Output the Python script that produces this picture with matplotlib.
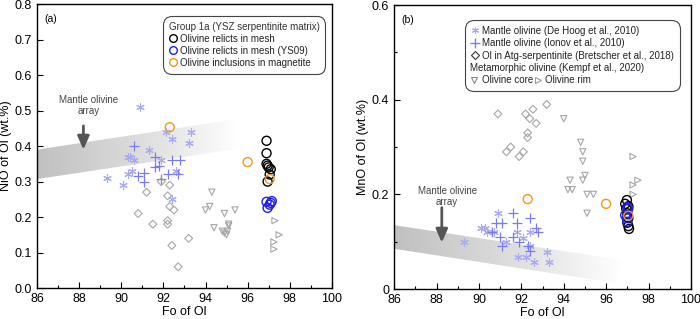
import numpy as np
from matplotlib import pyplot as plt
from matplotlib.colors import LinearSegmentedColormap
from matplotlib.lines import Line2D
from matplotlib.patches import Polygon
from matplotlib.ticker import MultipleLocator

plt.rcParams["font.family"] = ["Liberation Sans", "DejaVu Sans"]

# ---------------- data: panel (a) NiO ----------------
dehoog_fo_a = [90.9, 92.1, 92.4, 93.3, 93.2, 91.3, 90.4, 89.3, 90.1, 90.3, 90.6, 90.3, 90.5, 91.9, 92.6, 92.4]
dehoog_ni = [0.51, 0.44, 0.42, 0.44, 0.41, 0.39, 0.37, 0.31, 0.29, 0.37, 0.36, 0.32, 0.33, 0.36, 0.33, 0.25]
ionov_fo_a = [90.6, 91.6, 90.8, 91.1, 91.1, 91.6, 91.8, 91.9, 92.2, 92.4, 92.8, 92.7]
ionov_ni = [0.40, 0.37, 0.315, 0.325, 0.30, 0.34, 0.345, 0.307, 0.32, 0.36, 0.36, 0.32]
atg_fo_a = [91.2, 90.8, 91.5, 91.9, 92.3, 92.2, 92.3, 92.5, 92.2, 92.2, 92.4, 93.2, 92.7]
atg_ni = [0.27, 0.21, 0.18, 0.30, 0.29, 0.26, 0.23, 0.22, 0.19, 0.18, 0.12, 0.14, 0.06]
core_fo_a = [94.3, 94.2, 94.0, 94.9, 95.4, 94.4, 95.1, 95.1, 94.8, 94.9, 95.0, 95.05]
core_ni = [0.27, 0.23, 0.22, 0.21, 0.22, 0.17, 0.18, 0.175, 0.16, 0.155, 0.15, 0.16]
rim_fo_a = [97.3, 97.5, 97.25, 97.25]
rim_ni = [0.19, 0.15, 0.13, 0.11]
mesh_fo_a = [96.9, 96.9, 96.9, 96.95, 97.0, 97.1, 97.05, 96.95]
mesh_ni = [0.415, 0.38, 0.35, 0.345, 0.34, 0.335, 0.32, 0.30]
ys09_fo_a = [96.9, 97.15, 97.05, 96.95, 97.1]
ys09_ni = [0.243, 0.245, 0.235, 0.226, 0.24]
incl_fo_a = [92.3, 96.0, 97.05]
incl_ni = [0.453, 0.355, 0.307]
band_a_fo = [86.0, 95.6, 95.6, 86.0]
band_a_ni = [0.39, 0.477, 0.393, 0.307]

# ---------------- data: panel (b) MnO ----------------
dehoog_fo_b = [89.3, 90.1, 90.3, 90.4, 90.7, 90.9, 91.3, 91.8, 92.1, 91.85, 92.2, 92.4, 92.6, 93.2, 93.3, 92.4]
dehoog_mn = [0.10, 0.13, 0.13, 0.12, 0.12, 0.16, 0.10, 0.12, 0.107, 0.068, 0.068, 0.09, 0.057, 0.078, 0.057, 0.12]
ionov_fo_b = [90.8, 91.1, 90.6, 91.0, 91.1, 91.6, 91.6, 91.8, 91.9, 92.4, 92.7, 92.8, 92.3, 92.4]
ionov_mn = [0.14, 0.14, 0.12, 0.11, 0.09, 0.16, 0.11, 0.14, 0.10, 0.15, 0.13, 0.12, 0.09, 0.08]
atg_fo_b = [90.9, 92.2, 92.55, 93.2, 92.4, 92.7, 92.3, 92.3, 91.5, 91.3, 92.1, 91.9]
atg_mn = [0.37, 0.37, 0.38, 0.39, 0.36, 0.35, 0.33, 0.32, 0.30, 0.29, 0.29, 0.28]
core_fo_b = [94.0, 94.8, 94.9, 94.9, 95.0, 94.9, 94.3, 94.2, 94.4, 95.1, 95.4, 95.1]
core_mn = [0.36, 0.31, 0.29, 0.27, 0.24, 0.23, 0.23, 0.21, 0.21, 0.20, 0.20, 0.16]
rim_fo_b = [97.27, 97.5, 97.27, 97.27]
rim_mn = [0.28, 0.23, 0.22, 0.20]
mesh_fo_b = [96.98, 96.9, 97.05, 96.95, 97.0, 97.05, 97.0, 97.05, 97.08]
mesh_mn = [0.188, 0.18, 0.175, 0.17, 0.16, 0.15, 0.14, 0.133, 0.127]
ys09_fo_b = [97.0, 96.9, 97.0, 97.05, 96.98]
ys09_mn = [0.173, 0.156, 0.142, 0.17, 0.15]
incl_fo_b = [92.3, 96.0, 97.05]
incl_mn = [0.19, 0.18, 0.155]
band_b_fo = [86.0, 96.8, 96.4, 86.0]
band_b_mn = [0.135, 0.061, 0.013, 0.085]

C_DEHOOG = "#a9a9f5"
C_IONOV = "#7b7bf0"
C_GREY = "#a6a6a6"
C_BLUE = "#1f1fe6"
C_ORANGE = "#f7941d"

band_cmap = LinearSegmentedColormap.from_list("band", ["#c0c0c0", "#dcdcdc", "#ffffff"])


def draw_band(ax, xs, ys):
    poly = Polygon(np.column_stack([xs, ys]), closed=True, facecolor="none", edgecolor="none")
    ax.add_patch(poly)
    grad = np.linspace(0, 1, 256).reshape(1, -1)
    img = ax.imshow(grad, cmap=band_cmap, vmin=0, vmax=1, aspect="auto",
                    extent=[min(xs), max(xs), min(ys), max(ys)], origin="lower", zorder=1)
    img.set_clip_path(poly)


def draw_points(ax, fo_sets, val_sets):
    (dh_x, io_x, at_x, co_x, ri_x, me_x, ys_x, in_x) = fo_sets
    (dh_y, io_y, at_y, co_y, ri_y, me_y, ys_y, in_y) = val_sets
    ax.scatter(dh_x, dh_y, marker=(6, 2, 0), s=30, color=C_DEHOOG, linewidths=0.8, zorder=3)
    ax.scatter(io_x, io_y, marker="+", s=45, color=C_IONOV, linewidths=0.9, zorder=3)
    ax.scatter(at_x, at_y, marker="D", s=16, facecolors="none", edgecolors=C_GREY, linewidths=0.8, zorder=3)
    ax.scatter(co_x, co_y, marker="v", s=20, facecolors="none", edgecolors=C_GREY, linewidths=0.8, zorder=3)
    ax.scatter(ri_x, ri_y, marker=">", s=20, facecolors="none", edgecolors=C_GREY, linewidths=0.8, zorder=3)
    ax.scatter(me_x, me_y, marker="o", s=42, facecolors="none", edgecolors="black", linewidths=1.0, zorder=4)
    ax.scatter(ys_x, ys_y, marker="o", s=42, facecolors="none", edgecolors=C_BLUE, linewidths=1.0, zorder=5)
    ax.scatter(in_x, in_y, marker="o", s=42, facecolors="none", edgecolors=C_ORANGE, linewidths=1.0, zorder=6)


def style_axes(ax, ymax, ymajor, yminor, ylabel, yfmt):
    ax.set_xlim(86, 100)
    ax.set_ylim(0, ymax)
    ax.xaxis.set_major_locator(MultipleLocator(2))
    ax.xaxis.set_minor_locator(MultipleLocator(1))
    ax.yaxis.set_major_locator(MultipleLocator(ymajor))
    ax.yaxis.set_minor_locator(MultipleLocator(yminor))
    ax.yaxis.set_major_formatter(yfmt)
    ax.tick_params(which="major", direction="in", length=4, width=0.8, labelsize=9)
    ax.tick_params(which="minor", direction="in", length=2.5, width=0.8)
    for sp in ax.spines.values():
        sp.set_linewidth(1.0)
    ax.set_xlabel("Fo of Ol", fontsize=9, labelpad=1)
    ax.set_ylabel(ylabel, fontsize=9, labelpad=2)


def mantle_arrow(ax, x, y_text, y_from, y_to):
    ax.text(x + 0.25, y_text, "Mantle olivine\narray", ha="center", va="center", fontsize=7,
            color="#444444", linespacing=1.1)
    ax.annotate("", xy=(x, y_to), xytext=(x, y_from),
                arrowprops=dict(arrowstyle="-|>,head_length=0.8,head_width=0.35",
                                color="#555555", lw=2.0, shrinkA=0, shrinkB=0))


def round_frame(leg):
    fr = leg.get_frame()
    fr.set_linewidth(0.8)
    fr.set_boxstyle("round", pad=0.0, rounding_size=0.9)


fig = plt.figure(figsize=(7.0, 3.19), dpi=100)
ax1 = fig.add_axes([0.053, 0.097, 0.421, 0.89])
ax2 = fig.add_axes([0.563, 0.094, 0.424, 0.89])

# panel (a)
draw_band(ax1, band_a_fo, band_a_ni)
draw_points(ax1,
            (dehoog_fo_a, ionov_fo_a, atg_fo_a, core_fo_a, rim_fo_a, mesh_fo_a, ys09_fo_a, incl_fo_a),
            (dehoog_ni, ionov_ni, atg_ni, core_ni, rim_ni, mesh_ni, ys09_ni, incl_ni))
style_axes(ax1, 0.8, 0.1, 0.1, "NiO of Ol (wt.%)", "{x:.1f}")
mantle_arrow(ax1, 88.2, 0.515, 0.457, 0.39)
ax1.text(0.025, 0.965, "(a)", transform=ax1.transAxes, fontsize=7.5, va="top")

h_a = [Line2D([], [], ls="none", marker="o", ms=5.5, mfc="none", mec=c, mew=1.0)
       for c in ["black", C_BLUE, C_ORANGE]]
leg1 = ax1.legend(h_a, ["Olivine relicts in mesh", "Olivine relicts in mesh (YS09)",
                        "Olivine inclusions in magnetite"],
                  title="Group 1a (YSZ serpentinite matrix)", loc="upper right",
                  bbox_to_anchor=(0.995, 0.975), fontsize=7, title_fontsize=7,
                  handlelength=0.8, handletextpad=0.4, labelspacing=0.2, borderpad=0.6,
                  fancybox=True, framealpha=1, edgecolor="#444444")
round_frame(leg1)
leg1._legend_box.align = "left"
leg1.get_title().set_color("#333333")
for t in leg1.get_texts():
    t.set_color("#222222")

# panel (b)
draw_band(ax2, band_b_fo, band_b_mn)
draw_points(ax2,
            (dehoog_fo_b, ionov_fo_b, atg_fo_b, core_fo_b, rim_fo_b, mesh_fo_b, ys09_fo_b, incl_fo_b),
            (dehoog_mn, ionov_mn, atg_mn, core_mn, rim_mn, mesh_mn, ys09_mn, incl_mn))
style_axes(ax2, 0.6, 0.2, 0.1, "MnO of Ol (wt.%)", lambda v, p: "0" if v == 0 else f"{v:.1f}")
mantle_arrow(ax2, 88.25, 0.196, 0.172, 0.098)
ax2.text(0.025, 0.965, "(b)", transform=ax2.transAxes, fontsize=7.5, va="top")

blank = Line2D([], [], ls="none")
h_b = [Line2D([], [], ls="none", marker=(6, 2, 0), ms=5, color=C_DEHOOG, mew=0.8),
       Line2D([], [], ls="none", marker="+", ms=7, color=C_IONOV, mew=1.0),
       Line2D([], [], ls="none", marker="D", ms=4, mfc="none", mec="#333333", mew=0.8),
       blank, blank]
leg2 = ax2.legend(h_b, ["Mantle olivine (De Hoog et al., 2010)", "Mantle olivine (Ionov et al., 2010)",
                        "Ol in Atg-serpentinite (Bretscher et al., 2018)", " ", " "],
                  loc="upper right", bbox_to_anchor=(0.98, 0.965), fontsize=7,
                  handlelength=0.8, handletextpad=0.4, labelspacing=0.25, borderpad=0.6,
                  fancybox=True, framealpha=1, edgecolor="#444444")
round_frame(leg2)
for t in leg2.get_texts():
    t.set_color("#222222")
ax2.add_artist(leg2)

# place the Kempf block into the two blank rows of the legend box
fig.canvas.draw()
inv = fig.transFigure.inverted()
row3 = leg2.get_texts()[2].get_window_extent()
hnd = leg2.legend_handles[0]
frame = leg2.get_frame().get_window_extent()
x0 = frame.x0 + 0.75 * (row3.x0 - frame.x0) * 0.33
anchor = inv.transform((frame.x0 + 5, row3.y0 - 2))

h_c = [Line2D([], [], ls="none", marker="v", ms=4.5, mfc="none", mec="#888888", mew=0.8),
       Line2D([], [], ls="none", marker=">", ms=4.5, mfc="none", mec="#999999", mew=0.8)]
leg3 = ax2.legend(h_c, ["Olivine core", "Olivine rim"], ncol=2, loc="upper left",
                  title="Metamorphic olivine (Kempf et al., 2020)", title_fontsize=7,
                  bbox_to_anchor=tuple(anchor), bbox_transform=fig.transFigure,
                  fontsize=7, frameon=False, labelspacing=0.25,
                  handlelength=0.8, handletextpad=0.4, columnspacing=0.1, borderpad=0.0,
                  borderaxespad=0.0)
leg3._legend_box.align = "left"
leg3._legend_box.sep = 2
leg3.get_title().set_color("#222222")
for t in leg3.get_texts():
    t.set_color("#222222")

fig.savefig("out.png", dpi=100)
